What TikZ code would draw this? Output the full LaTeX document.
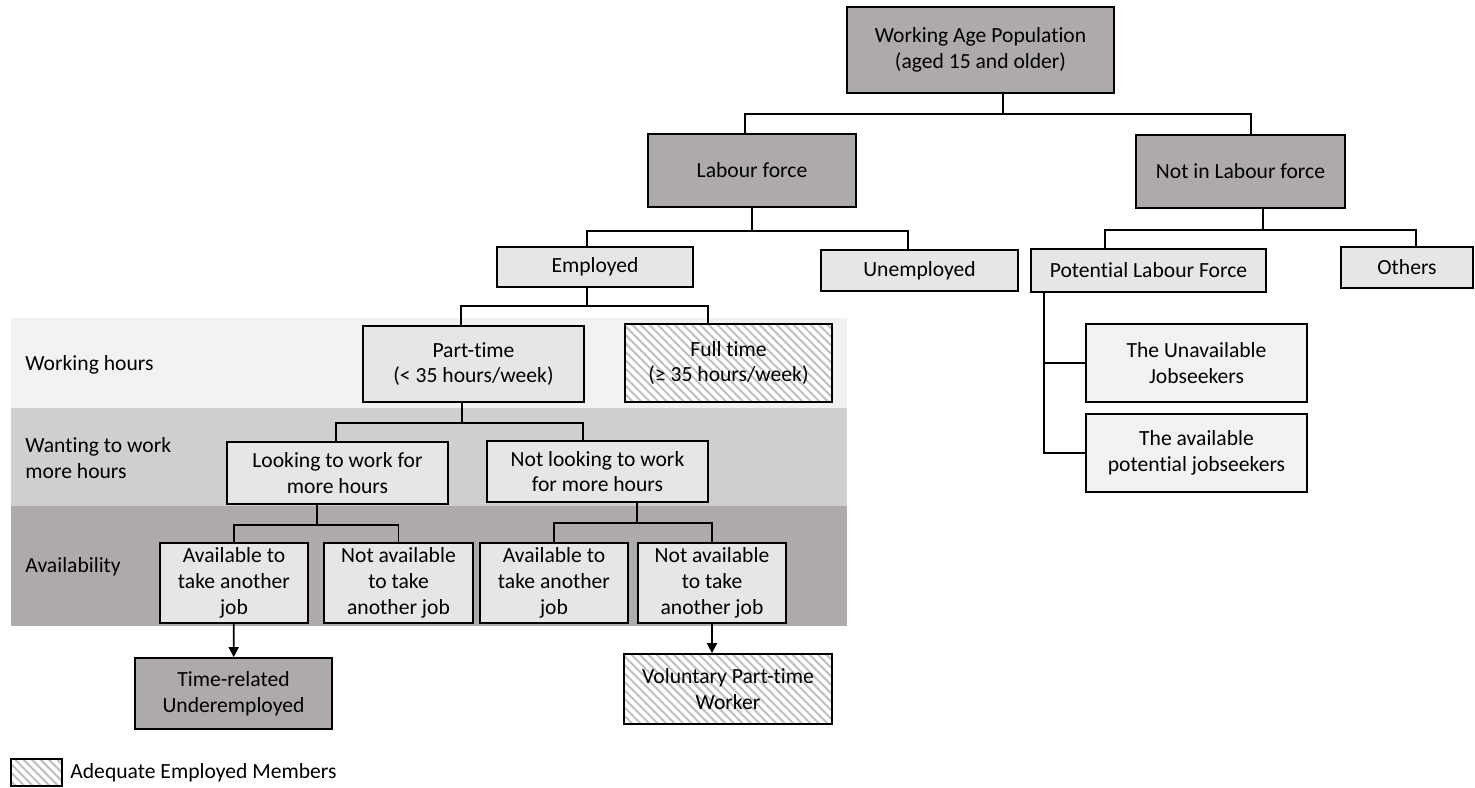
\documentclass[tikz,border=0pt]{standalone}
\usepackage{fontspec}
\setmainfont[Ligatures=NoCommon]{Carlito}
\usetikzlibrary{arrows.meta,patterns.meta}
\definecolor{boxdark}{HTML}{AEAAAA}
\definecolor{boxlight}{HTML}{E7E6E6}
\definecolor{boxpale}{HTML}{F2F2F2}
\definecolor{bandmid}{HTML}{D0CECE}
\definecolor{hatchgray}{HTML}{C0C0C0}
\tikzset{
    cat box/.style={draw, line width=0.9pt, inner sep=1pt, align=center,
        font=\fontsize{10.8}{12.9}\selectfont},
    dark box/.style={cat box, fill=boxdark},
    light box/.style={cat box, fill=boxlight},
    pale box/.style={cat box, fill=boxpale},
    hatched box/.style={cat box, preaction={fill=white},
        pattern={Lines[angle=-45,distance=3pt,line width=1pt]}, pattern color=hatchgray},
    link/.style={line width=0.9pt},
    arr/.style={link, -{Triangle[length=5pt,width=5pt]}},
    band label/.style={anchor=west, align=left, inner sep=0pt,
        font=\fontsize{10.8}{12.9}\selectfont},
}
% style, name, x1, y1, x2, y2, text
\newcommand\BoxAt[7]{%
    \node[#1, minimum width={(#5-#3)*0.5pt}, minimum height={(#6-#4)*0.5pt}]
        (#2) at ({(#3+#5)/2},{(#4+#6)/2}) {#7};
}
\begin{document}
\begin{tikzpicture}[x=0.5pt,y=-0.5pt]
    \useasboundingbox (0,0) rectangle (1475,787);
    % bands
    \fill[boxpale] (11,318) rectangle (847,408);
    \fill[bandmid] (11,408) rectangle (847,506);
    \fill[boxdark] (11,506) rectangle (847,626);
    \node[band label] (hrs) at (25,365) {Working hours};
    \node[band label] (want) at (25,458) {Wanting to work\\more hours};
    \node[band label] (avail) at (25,567) {Availability};
    % top levels
    \BoxAt{dark box}{wap}{847}{7}{1114}{93}{Working Age Population\\(aged 15 and older)}
    \BoxAt{dark box}{lf}{648}{134}{856}{207}{Labour force}
    \BoxAt{dark box}{nlf}{1136}{135}{1345}{208}{Not in Labour force}
    \BoxAt{light box}{emp}{497}{247}{693}{287}{Employed}
    \BoxAt{light box}{unemp}{821}{250}{1018}{291}{Unemployed}
    \BoxAt{light box}{plf}{1031}{249}{1266}{292}{Potential Labour Force}
    \BoxAt{light box}{oth}{1341}{247}{1473}{288}{Others}
    \BoxAt{pale box}{unav}{1086}{324}{1307}{402}{The Unavailable\\Jobseekers}
    \BoxAt{pale box}{avpot}{1086}{414}{1307}{492}{The available\\potential jobseekers}
    % employed branch
    \BoxAt{light box}{pt}{363}{326}{584}{402}{Part-time\\(< 35 hours/week)}
    \BoxAt{hatched box}{ft}{625}{324}{832}{402}{Full time\\(≥ 35 hours/week)}
    \BoxAt{light box}{look}{227}{442}{448}{504}{Looking to work for\\more hours}
    \BoxAt{light box}{nlook}{487}{441}{708}{502}{Not looking to work\\for more hours}
    \BoxAt{light box}{avA}{160}{543}{308}{623}{Available to\\take another\\job}
    \BoxAt{light box}{navA}{324}{543}{473}{623}{Not available\\to take\\another job}
    \BoxAt{light box}{avB}{480}{543}{628}{623}{Available to\\take another\\job}
    \BoxAt{light box}{navB}{638}{543}{786}{623}{Not available\\to take\\another job}
    \BoxAt{dark box}{tru}{135}{658}{332}{729}{Time-related\\Underemployed}
    \BoxAt{hatched box}{vol}{624}{654}{832}{724}{Voluntary Part-time\\Worker}
    % forks
    \coordinate (f1) at (1003,114);
    \draw[link] (wap.south -| f1) -- (f1);
    \draw[link] (f1) -| ([xshift=-3.5pt]lf.north);
    \draw[link] (f1) -| ([xshift=5.25pt]nlf.north);
    \coordinate (f2) at (752,231);
    \draw[link] (lf.south -| f2) -- (f2);
    \draw[link] (f2) -| ([xshift=-4pt]emp.north);
    \draw[link] (f2) -| ([xshift=-5.75pt]unemp.north);
    \coordinate (f3) at (1263,230);
    \draw[link] (nlf.south -| f3) -- (f3);
    \draw[link] (f3) -| ([xshift=-21.75pt]plf.north);
    \draw[link] (f3) -| ([xshift=4.5pt]oth.north);
    \coordinate (f4) at (587,306);
    \draw[link] (emp.south -| f4) -- (f4);
    \draw[link] (f4) -| ([xshift=-6.25pt]pt.north);
    \draw[link] (f4) -| ([xshift=-10.25pt]ft.north);
    \coordinate (f5) at (462,423);
    \draw[link] (pt.south -| f5) -- (f5);
    \draw[link] (f5) -| ([xshift=-0.75pt]look.north);
    \draw[link] (f5) -| ([xshift=-7.25pt]nlook.north);
    \coordinate (f6) at (317,525);
    \draw[link] (look.south -| f6) -- (f6);
    \draw[link] (f6) -| (avA.north);
    \draw[link] (f6) -| (navA.north);
    \coordinate (f7) at (637,523);
    \draw[link] (nlook.south -| f7) -- (f7);
    \draw[link] (f7) -| (avB.north);
    \draw[link] (f7) -| (navB.north);
    % potential labour force
    \coordinate (sp) at ([xshift=7pt]plf.south west);
    \draw[link] (sp) |- (avpot.west);
    \draw[link] (unav.west -| sp) -- (unav.west);
    % arrows
    \draw[arr] (avA) -- (tru);
    \draw[arr] (navB.south) -- (navB.south |- vol.north);
    % legend
    \BoxAt{hatched box}{leg}{11}{759}{62}{786}{}
    \node[band label] (legtxt) at (70,773) {Adequate Employed Members};
\end{tikzpicture}
\end{document}
